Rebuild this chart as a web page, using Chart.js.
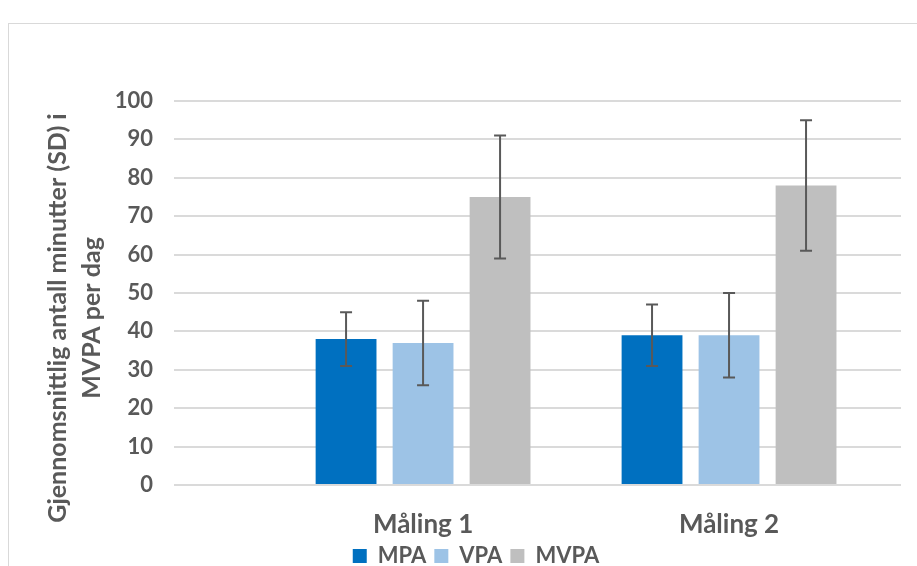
<!DOCTYPE html>
<html>
<head>
<meta charset="utf-8">
<script src="https://cdn.jsdelivr.net/npm/chart.js@4"></script>
<style>
  html, body { margin: 0; padding: 0; background: #fff; overflow: hidden; width: 917px; height: 566px; }
  #wrap { position: absolute; left: 8px; top: 23px; width: 934px; height: 563px; border: 1px solid #d9d9d9; }
</style>
</head>
<body>
<div id="wrap"><canvas id="chart" width="934" height="563"></canvas></div>
<script>
// Data
const xLabels = ["Måling 1", "Måling 2"];
const seriesNames = ["MPA", "VPA", "MVPA"];
const mpa = [38, 39];
const vpa = [37, 39];
const mvpa = [75, 78];
const mpaSD = [7, 8];
const vpaSD = [11, 11];
const mvpaSD = [16, 17];
const yTicks = [0, 10, 20, 30, 40, 50, 60, 70, 80, 90, 100];
const yTitle = ["Gjennomsnittlig antall minutter (SD) i", "MVPA per dag"];

const colors = ["#0070C0", "#9DC3E6", "#BFBFBF"];
const values = [mpa, vpa, mvpa];
const sds = [mpaSD, vpaSD, mvpaSD];
const textColor = "#595959";
const fontFam = "Lato, 'Open Sans', sans-serif";

// Error bars (SD)
const errorBars = {
    id: "errorBars",
    afterDatasetsDraw(chart) {
        const ctx = chart.ctx;
        const y = chart.scales.y;
        ctx.save();
        ctx.strokeStyle = "#595959";
        ctx.lineWidth = 2;
        chart.data.datasets.forEach((ds, di) => {
            const meta = chart.getDatasetMeta(di);
            meta.data.forEach((bar, i) => {
                const v = values[di][i];
                const e = sds[di][i];
                const top = y.getPixelForValue(v + e);
                const bot = y.getPixelForValue(v - e);
                ctx.beginPath();
                ctx.moveTo(bar.x, top);
                ctx.lineTo(bar.x, bot);
                ctx.moveTo(bar.x - 6, top);
                ctx.lineTo(bar.x + 6, top);
                ctx.moveTo(bar.x - 6, bot);
                ctx.lineTo(bar.x + 6, bot);
                ctx.stroke();
            });
        });
        ctx.restore();
    }
};

// y axis title, two rotated lines
const axisTitle = {
    id: "axisTitle",
    afterDraw(chart) {
        const ctx = chart.ctx;
        ctx.save();
        ctx.fillStyle = textColor;
        ctx.font = "bold 25px " + fontFam;
        ctx.textAlign = "center";
        ctx.textBaseline = "alphabetic";
        const xs = [57, 91];
        yTitle.forEach((line, i) => {
            ctx.save();
            ctx.translate(xs[i], 294);
            ctx.rotate(-Math.PI / 2);
            ctx.fillText(line, 0, 0);
            ctx.restore();
        });
        ctx.restore();
    }
};

new Chart(document.getElementById("chart"), {
    type: "bar",
    data: {
        datasets: seriesNames.map((name, di) => ({
            label: name,
            data: values[di].map((v, i) => ({ x: i + 1, y: v })),
            backgroundColor: colors[di],
            borderWidth: 0,
            categoryPercentage: 0.755,
            barPercentage: 0.79
        }))
    },
    options: {
        responsive: false,
        animation: false,
        layout: { padding: { top: 77, right: 0, bottom: 10, left: 0 } },
        plugins: {
            tooltip: { enabled: false },
            legend: {
                position: "bottom",
                labels: {
                    boxWidth: 14,
                    boxHeight: 14,
                    padding: 8,
                    color: textColor,
                    font: { family: fontFam, size: 22, weight: "bold" }
                }
            }
        },
        scales: {
            x: {
                type: "linear",
                offset: false,
                min: 0.186,
                max: 2.562,
                grid: { display: false },
                border: { display: false },
                afterBuildTicks: (scale) => {
                    scale.ticks = xLabels.map((l, i) => ({ value: i + 1 }));
                },
                afterFit: (scale) => { scale.height = 52; },
                ticks: {
                    autoSkip: false,
                    maxRotation: 0,
                    padding: 16,
                    color: textColor,
                    font: { family: fontFam, size: 26, weight: "bold" },
                    callback: (v) => xLabels[v - 1]
                }
            },
            y: {
                min: 0,
                max: 100,
                afterBuildTicks: (scale) => {
                    scale.ticks = yTicks.map(v => ({ value: v }));
                },
                afterFit: (scale) => { scale.width = 165; },
                grid: { color: "#dadada", lineWidth: 2, drawTicks: false },
                border: { display: false },
                ticks: {
                    padding: 21,
                    color: textColor,
                    font: { family: fontFam, size: 22, weight: "bold" }
                }
            },
            y2: {
                position: "right",
                min: 0,
                max: 100,
                grid: { display: false },
                border: { display: false },
                ticks: { display: false },
                afterFit: (scale) => { scale.width = 42; }
            }
        }
    },
    plugins: [errorBars, axisTitle]
});
</script>
</body>
</html>
